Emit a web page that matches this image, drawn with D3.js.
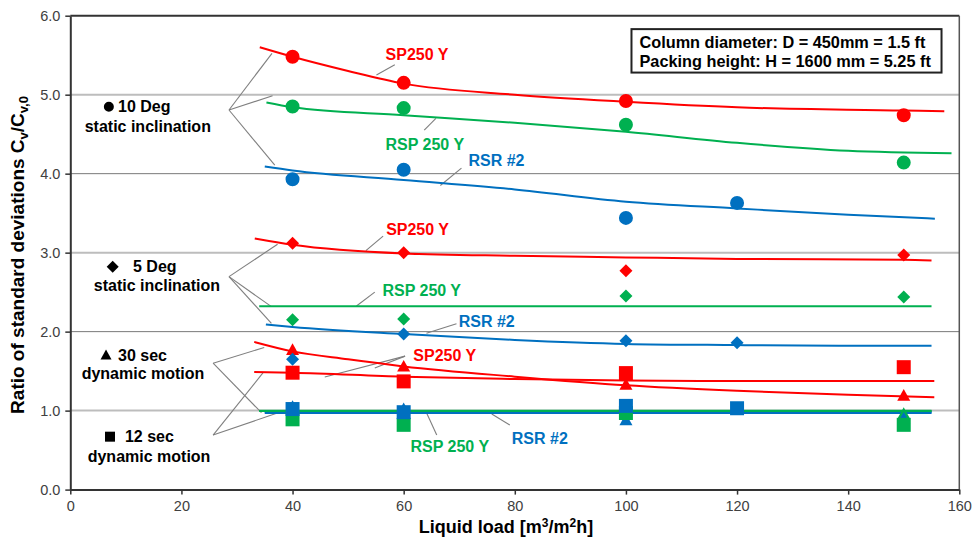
<!DOCTYPE html>
<html>
<head>
<meta charset="utf-8">
<script src="https://cdn.jsdelivr.net/npm/d3@7"></script>
<style>
  html, body { margin: 0; padding: 0; background: #fff; }
  svg { display: block; font-family: "Liberation Sans", Arial, sans-serif; }
</style>
</head>
<body>
<svg id="chart" width="972" height="539"></svg>
<script>
// ---------- data ----------
const xTicks = [0, 20, 40, 60, 80, 100, 120, 140, 160];
const yTicks = [0, 1, 2, 3, 4, 5, 6];

// 10 Deg static inclination (circles)
const circleRed   = [[40, 5.48], [60, 5.15], [100, 4.92], [150, 4.74]];
const circleGreen = [[40, 4.85], [60, 4.83], [100, 4.62], [150, 4.14]];
const circleBlue  = [[40, 3.93], [60, 4.05], [100, 3.44], [120, 3.63]];
// 5 Deg static inclination (diamonds)
const diamondRed   = [[40, 3.12], [60, 3.00], [100, 2.77], [150, 2.97]];
const diamondGreen = [[40, 2.15], [60, 2.16], [100, 2.45], [150, 2.44]];
const diamondBlue  = [[40, 1.65], [60, 1.97], [100, 1.885], [120, 1.86]];
// 30 sec dynamic motion (triangles)
const triangleRed   = [[40, 1.77], [60, 1.56], [100, 1.33], [150, 1.19]];
const triangleGreen = [[40, 0.98], [60, 0.98], [100, 0.95], [150, 0.96]];
const triangleBlue  = [[40, 1.05], [60, 1.02], [100, 0.88], [150, 0.90]];
// 12 sec dynamic motion (squares)
const squareRed   = [[40, 1.48], [60, 1.37], [100, 1.475], [150, 1.55]];
const squareGreen = [[40, 0.89], [60, 0.82], [100, 0.97], [150, 0.82]];
const squareBlue  = [[40, 1.02], [60, 0.98], [100, 1.06], [120, 1.03]];

// trend lines
const fitCircleRed   = [[34.1, 5.60], [40, 5.48], [50, 5.30], [60, 5.14], [80, 5.00], [100, 4.91], [120, 4.84], [150, 4.80], [157.3, 4.79]];
const fitCircleGreen = [[35.3, 4.90], [40, 4.84], [60, 4.74], [80, 4.645], [100, 4.53], [120, 4.39], [140, 4.29], [158.6, 4.26]];
const fitCircleBlue  = [[35, 4.09], [40, 4.04], [60, 3.92], [80, 3.80], [100, 3.645], [120, 3.56], [140, 3.48], [155.6, 3.43]];
const fitDiamondRed   = [[33.2, 3.18], [40, 3.10], [60, 2.99], [80, 2.96], [100, 2.94], [120, 2.92], [150, 2.91], [155, 2.90]];
const fitDiamondGreen = [[34, 2.32], [155, 2.32]];
const fitDiamondBlue  = [[35.2, 2.09], [40, 2.06], [60, 1.97], [80, 1.895], [100, 1.845], [120, 1.83], [140, 1.82], [155, 1.82]];
const fitTriangleRed   = [[33.1, 1.87], [40, 1.75], [50, 1.65], [60, 1.56], [80, 1.43], [100, 1.32], [120, 1.25], [140, 1.20], [155.5, 1.17]];
const fitTriangleBlue  = [[35, 0.982], [155, 0.982]];
const fitTriangleGreen = [[34, 0.997], [155, 0.997]];
const fitSquareRed   = [[33.1, 1.49], [40, 1.48], [60, 1.43], [80, 1.40], [100, 1.38], [120, 1.375], [155.5, 1.375]];
const fitSquareBlue  = [[35, 0.972], [155, 0.972]];
const fitSquareGreen = [[34, 0.995], [155, 0.995]];

// series label callouts: text, label centre, leader from, leader to
const seriesLabels = ["SP250 Y", "RSP 250 Y", "RSR #2", "SP250 Y", "RSP 250 Y", "RSR #2", "SP250 Y", "RSP 250 Y", "RSR #2"];
const seriesLabelColors = ["red", "green", "blue", "red", "green", "blue", "red", "green", "blue"];
const seriesLabelPos = [[62.4, 5.51], [63.8, 4.375], [76.7, 4.17], [62.5, 3.29], [63.25, 2.527], [74.95, 2.126], [67.4, 1.704], [68.3, 0.543], [84.5, 0.65]];
const seriesLeaders = [
  [[55.1, 5.25], [58.4, 5.38]],
  [[65.8, 4.70], [63.7, 4.55]],
  [[66.6, 3.85], [70.4, 4.07]],
  [[53.2, 3.025], [56.3, 3.21]],
  [[51.5, 2.325], [54.8, 2.50]],
  [[64.1, 1.98], [69.5, 2.10]],
  [[45.8, 1.426], [60.25, 1.69]],
  [[54.8, 1.54], [60.25, 1.69]],
  [[64.15, 0.966], [65.95, 0.69]],
  [[75.85, 0.957], [79.1, 0.818]]
];

// group labels
const groupLine1 = ["10 Deg", "5 Deg", "30 sec", "12 sec"];
const groupLine2 = ["static inclination", "static inclination", "dynamic motion", "dynamic motion"];
const groupShapes = ["circle", "diamond", "triangle", "square"];
const groupMarkerPos = [[6.94, 4.848], [7.63, 2.822], [6.43, 1.704], [7.15, 0.67]];
const groupLine1Pos = [[8.59, 4.848], [11.29, 2.822], [8.59, 1.704], [9.84, 0.67]];
const groupLine2Pos = [[13.95, 4.595], [15.6, 2.578], [13.08, 1.464], [14.17, 0.4166]];
const groupApex = [[28.56, 4.806], [28.56, 2.696], [25.7, 1.60], [25.7, 0.69]];
const groupTargets = [
  [[36.3, 5.524], [36.4, 4.987], [36.8, 4.108]],
  [[37.3, 3.106], [36.2, 2.316], [36.2, 2.105]],
  [[34.9, 1.80], [34.4, 0.974]],
  [[34.7, 1.48], [37.4, 0.974]]
];

const infoLines = ["Column diameter: D = 450mm = 1.5 ft", "Packing height: H = 1600 mm = 5.25 ft"];
const infoBox = [[101.0, 5.83], [156.8, 5.28]];

// ---------- drawing ----------
const colors = { red: "#ff0000", green: "#00b050", blue: "#0070c0" };
const svg = d3.select("#chart");
const x = d3.scaleLinear().domain([0, 160]).range([70.3, 959.3]);
const y = d3.scaleLinear().domain([0, 6]).range([489.6, 15.7]);

// gridlines
const grid = svg.append("g");
yTicks.filter(v => v > 0 && v < 6).forEach(v => {
  const light = (v % 2 === 1);
  grid.append("line")
    .attr("x1", x(0)).attr("x2", x(160))
    .attr("y1", y(v)).attr("y2", y(v))
    .attr("stroke", light ? "#bdbdbd" : "#7a7a7a")
    .attr("stroke-width", light ? 2 : 1);
});
// top and right frame
svg.append("line").attr("x1", x(0)).attr("x2", x(160)).attr("y1", y(6)).attr("y2", y(6))
  .attr("stroke", "#333").attr("stroke-width", 2);
svg.append("line").attr("x1", x(160)).attr("x2", x(160)).attr("y1", y(6)).attr("y2", y(0))
  .attr("stroke", "#555").attr("stroke-width", 1.5);

// axes
const yAxis = svg.append("g").attr("transform", `translate(${x(0)},0)`)
  .call(d3.axisLeft(y).tickValues(yTicks).tickFormat(d3.format(".1f")).tickSize(5).tickSizeOuter(0).tickPadding(5));
const xAxis = svg.append("g").attr("transform", `translate(0,${y(0)})`)
  .call(d3.axisBottom(x).tickValues(xTicks).tickFormat(d3.format("d")).tickSize(5).tickSizeOuter(0).tickPadding(6));
[yAxis, xAxis].forEach(g => {
  g.select(".domain").attr("stroke", "#333").attr("stroke-width", 2);
  g.selectAll(".tick line").attr("stroke", "#333").attr("stroke-width", 1.5);
  g.selectAll(".tick text").attr("fill", "#404040").style("font-size", "14.5px")
    .style("font-family", "'Liberation Sans', Arial, sans-serif");
});

// axis titles
const yTitle = svg.append("text")
  .attr("transform", `translate(24,255) rotate(-90)`)
  .attr("text-anchor", "middle")
  .style("font-size", "19px").style("font-weight", "bold").attr("fill", "#000");
yTitle.append("tspan").text("Ratio of standard deviations C");
yTitle.append("tspan").attr("dy", 4).style("font-size", "13px").text("v");
yTitle.append("tspan").attr("dy", -4).text("/C");
yTitle.append("tspan").attr("dy", 4).style("font-size", "13px").text("v,0");

const xTitle = svg.append("text")
  .attr("x", 506).attr("y", 533).attr("text-anchor", "middle")
  .style("font-size", "18px").style("font-weight", "bold").attr("fill", "#000");
xTitle.append("tspan").text("Liquid load [m");
xTitle.append("tspan").attr("dy", -6).style("font-size", "12px").text("3");
xTitle.append("tspan").attr("dy", 6).text("/m");
xTitle.append("tspan").attr("dy", -6).style("font-size", "12px").text("2");
xTitle.append("tspan").attr("dy", 6).text("h]");

// leader lines for group labels
const leaders = svg.append("g").attr("stroke", "#7f7f7f").attr("stroke-width", 1.1).attr("fill", "none");
groupApex.forEach((a, i) => {
  groupTargets[i].forEach(t => {
    leaders.append("line").attr("x1", x(a[0])).attr("y1", y(a[1])).attr("x2", x(t[0])).attr("y2", y(t[1]));
  });
});
seriesLeaders.forEach(l => {
  leaders.append("line").attr("x1", x(l[0][0])).attr("y1", y(l[0][1])).attr("x2", x(l[1][0])).attr("y2", y(l[1][1]));
});

// trend lines
const lineGen = d3.line().x(d => x(d[0])).y(d => y(d[1])).curve(d3.curveMonotoneX);
const fits = [
  [fitCircleRed, "red", 2], [fitCircleGreen, "green", 2], [fitCircleBlue, "blue", 2],
  [fitDiamondRed, "red", 2], [fitDiamondGreen, "green", 2], [fitDiamondBlue, "blue", 2],
  [fitTriangleRed, "red", 2], [fitSquareRed, "red", 2],
  [fitTriangleBlue, "blue", 2.5], [fitSquareBlue, "blue", 2.5],
  [fitTriangleGreen, "green", 2], [fitSquareGreen, "green", 2]
];
const fitG = svg.append("g").attr("fill", "none");
fits.forEach(f => {
  fitG.append("path").attr("d", lineGen(f[0])).attr("stroke", colors[f[1]]).attr("stroke-width", f[2]);
});

// marker shapes
function shapePath(shape, cx, cy, s) {
  if (shape === "circle") { const p = d3.path(); p.moveTo(cx + s, cy); p.arc(cx, cy, s, 0, 2 * Math.PI); return p.toString(); }
  if (shape === "diamond") return `M${cx},${cy - s}L${cx + s},${cy}L${cx},${cy + s}L${cx - s},${cy}Z`;
  if (shape === "triangle") return `M${cx},${cy - s}L${cx + s},${cy + s * 0.8}L${cx - s},${cy + s * 0.8}Z`;
  return `M${cx - s},${cy - s}H${cx + s}V${cy + s}H${cx - s}Z`;
}
const markerSets = [
  [triangleRed, "triangle", "red", 6.5], [triangleGreen, "triangle", "green", 6.5], [triangleBlue, "triangle", "blue", 6.5],
  [diamondRed, "diamond", "red", 6.5], [diamondGreen, "diamond", "green", 6.5], [diamondBlue, "diamond", "blue", 6.5],
  [circleRed, "circle", "red", 7], [circleGreen, "circle", "green", 7], [circleBlue, "circle", "blue", 7],
  [squareRed, "square", "red", 7], [squareGreen, "square", "green", 7], [squareBlue, "square", "blue", 7]
];
const mk = svg.append("g");
markerSets.forEach(ms => {
  mk.selectAll(null).data(ms[0]).enter().append("path")
    .attr("d", d => shapePath(ms[1], x(d[0]), y(d[1]), ms[3]))
    .attr("fill", colors[ms[2]]);
});

// series labels
svg.append("g").selectAll("text").data(seriesLabels).enter().append("text")
  .attr("x", (d, i) => x(seriesLabelPos[i][0]))
  .attr("y", (d, i) => y(seriesLabelPos[i][1]))
  .attr("text-anchor", "middle").attr("dominant-baseline", "central")
  .style("font-size", "16px").style("font-weight", "bold")
  .attr("fill", (d, i) => colors[seriesLabelColors[i]])
  .text(d => d);

// group labels
const gl = svg.append("g").style("font-weight", "bold").style("font-size", "16px").attr("fill", "#000");
groupLine1.forEach((t, i) => {
  const sizes = { circle: 5, diamond: 6, triangle: 5.5, square: 5 };
  gl.append("path").attr("d", shapePath(groupShapes[i], x(groupMarkerPos[i][0]), y(groupMarkerPos[i][1]), sizes[groupShapes[i]]))
    .attr("fill", "#000");
  gl.append("text").attr("x", x(groupLine1Pos[i][0])).attr("y", y(groupLine1Pos[i][1]))
    .attr("dominant-baseline", "central").text(t);
  gl.append("text").attr("x", x(groupLine2Pos[i][0])).attr("y", y(groupLine2Pos[i][1]))
    .attr("text-anchor", "middle").attr("dominant-baseline", "central").text(groupLine2[i]);
});

// info box
svg.append("rect")
  .attr("x", x(infoBox[0][0])).attr("y", y(infoBox[0][1]))
  .attr("width", x(infoBox[1][0]) - x(infoBox[0][0]))
  .attr("height", y(infoBox[1][1]) - y(infoBox[0][1]))
  .attr("fill", "#fff").attr("stroke", "#222").attr("stroke-width", 2);
svg.append("g").selectAll("text").data(infoLines).enter().append("text")
  .attr("x", x(infoBox[0][0]) + 8)
  .attr("y", (d, i) => y(infoBox[0][1]) + 13 + i * 19)
  .attr("dominant-baseline", "central")
  .style("font-size", "16.3px").style("font-weight", "bold").attr("fill", "#000")
  .text(d => d);
</script>
</body>
</html>
